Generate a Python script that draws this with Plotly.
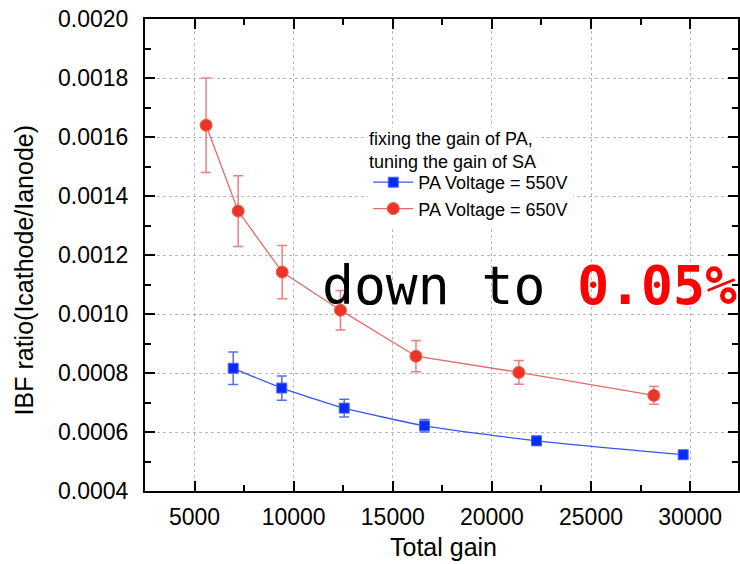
import plotly.graph_objects as go

# ---- data ----
gain_550 = [6950, 9400, 12550, 16600, 22250, 29650]
ibf_550 = [0.000816, 0.000749, 0.000681, 0.000621, 0.000570, 0.000523]
err_550 = [0.000055, 0.000041, 0.000030, 0.000021, 0.000015, 0.000013]

gain_650 = [5580, 7200, 9420, 12360, 16170, 21360, 28170]
ibf_650 = [0.00164, 0.001349, 0.001142, 0.001013, 0.000857, 0.000802, 0.000724]
err_650 = [0.00016, 0.00012, 0.00009, 0.000067, 0.000053, 0.00004, 0.00003]

name_550 = "PA Voltage = 550V"
name_650 = "PA Voltage = 650V"
legend_title = "fixing the gain of PA,<br>tuning the gain of SA"
x_title = "Total gain"
y_title = "IBF ratio(Icathode/Ianode)"

FONT = "Liberation Sans, Arial, sans-serif"

fig = go.Figure()
fig.add_trace(go.Scatter(
    x=gain_550, y=ibf_550, name=name_550, mode="lines+markers",
    line=dict(color="#3a55ee", width=1.3, shape="spline", smoothing=0.5),
    marker=dict(symbol="square", size=10, color="#0a2cf0",
                line=dict(color="#4a66ff", width=1)),
    error_y=dict(type="data", array=err_550, visible=True,
                 color="#5570e0", thickness=1.5, width=5),
))
fig.add_trace(go.Scatter(
    x=gain_650, y=ibf_650, name=name_650, mode="lines+markers",
    line=dict(color="#e46a6a", width=1.3),
    marker=dict(symbol="circle", size=12, color="#ec3528",
                line=dict(color="#f05a50", width=1)),
    error_y=dict(type="data", array=err_650, visible=True,
                 color="#e98080", thickness=1.5, width=5),
))

L, T, B = 145, 19, 73
W, H = 740, 564
pw = W - L
ph = H - T - B

def px(xp):
    return (xp - L) / pw

def py(yp):
    return (H - B - yp) / ph

# legend title (as white-backed text block above the legend items)
fig.add_annotation(text=legend_title, xref="paper", yref="paper",
                   x=px(368), y=py(127), xanchor="left", yanchor="top",
                   align="left", showarrow=False, bgcolor="white", borderpad=1,
                   font=dict(family=FONT, size=18, color="black"))

fig.add_annotation(text="down to " + "<span style='color:#ff0000'><b>0.05%</b></span>",
                   xref="paper", yref="paper", x=px(321), y=py(286),
                   xanchor="left", yanchor="middle", showarrow=False,
                   font=dict(family="DejaVu Sans Mono, monospace", size=53, color="black"))
fig.add_annotation(text=x_title, xref="paper", yref="paper",
                   x=px(445), y=py(547), xanchor="center", yanchor="middle",
                   showarrow=False, font=dict(family=FONT, size=25, color="black"))
fig.add_annotation(text=y_title, xref="paper", yref="paper", textangle=-90,
                   x=px(24), y=py(270), xanchor="center", yanchor="middle",
                   showarrow=False, font=dict(family=FONT, size=25, color="black"))

axis_common = dict(
    showline=True, linecolor="black", linewidth=2, mirror="allticks",
    ticks="inside", tickcolor="black", tickwidth=2, ticklen=10,
    showgrid=True, gridcolor="#b8b8b8", griddash="dot", gridwidth=1,
    zeroline=False, tickfont=dict(family=FONT, size=23, color="black"),
)

fig.update_xaxes(range=[2500, 32415], dtick=5000, tick0=0, tickformat="d",
                 ticklabelstandoff=4,
                 minor=dict(dtick=2500, tick0=0, ticks="inside", ticklen=6,
                            tickwidth=2, tickcolor="black", showgrid=False),
                 **axis_common)
fig.update_yaxes(range=[0.0004, 0.0020], dtick=0.0002, tick0=0, tickformat=".4f",
                 ticklabelstandoff=10,
                 minor=dict(dtick=0.0001, tick0=0, ticks="inside", ticklen=6,
                            tickwidth=2, tickcolor="black", showgrid=False),
                 **axis_common)

fig.update_layout(
    width=W, height=H,
    margin=dict(l=L, r=0, t=T, b=B, pad=0),
    paper_bgcolor="white", plot_bgcolor="white",
    font=dict(family=FONT, color="black"),
    showlegend=True,
    legend=dict(
        font=dict(family=FONT, size=18, color="black"),
        x=px(369), y=py(164), xanchor="left", yanchor="top",
        bgcolor="white", borderwidth=0, itemwidth=40, tracegroupgap=0,
    ),
)

fig.write_html("out.html")
